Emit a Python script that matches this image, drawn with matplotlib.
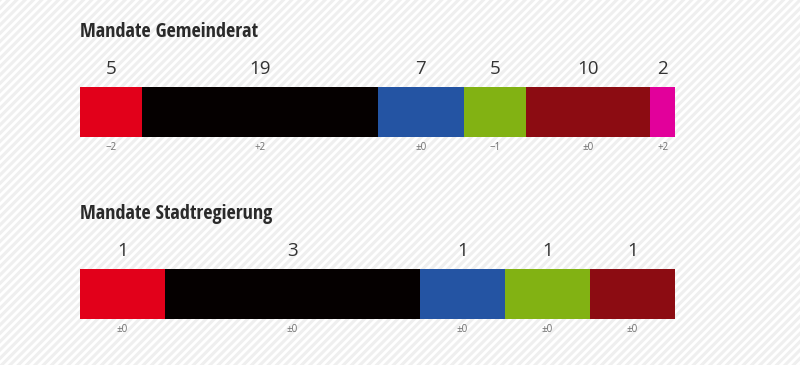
import matplotlib
matplotlib.use("Agg")
import matplotlib.pyplot as plt
import matplotlib.transforms as mtransforms
import numpy as np

# Mandate Gemeinderat
council_seats = [5, 19, 7, 5, 10, 2]
council_change = ["\u22122", "+2", "\u00b10", "\u22121", "\u00b10", "+2"]
council_colors = ["#e2001a", "#050000", "#2454a3", "#82b213", "#8c0c12", "#e2009b"]

# Mandate Stadtregierung
govt_seats = [1, 3, 1, 1, 1]
govt_change = ["\u00b10", "\u00b10", "\u00b10", "\u00b10", "\u00b10"]
govt_colors = ["#e2001a", "#050000", "#2454a3", "#82b213", "#8c0c12"]

TITLE_FONT = ["Open Sans Condensed", "DejaVu Sans"]
NUM_FONT = ["Open Sans", "DejaVu Sans"]

plt.rcParams["hatch.color"] = "#efefef"
plt.rcParams["hatch.linewidth"] = 2.2

W, H = 800, 365
fig = plt.figure(figsize=(W / 100, H / 100), dpi=100)

# striped background
bg = fig.add_axes([0, 0, 1, 1])
bg.set_xlim(0, 1)
bg.set_ylim(0, 1)
bg.add_patch(plt.Rectangle((0, 0), 1, 1, facecolor="white", edgecolor="#efefef", hatch="////", lw=0))
bg.axis("off")


def seat_bar(title, seats, changes, colors, top_px):
    fig.text(80 / W, 1 - (top_px - 55) / H, title, fontsize=14.5, fontweight="bold",
             color="#2a2a2a", family=TITLE_FONT, va="center", ha="left")
    ax = fig.add_axes([80 / W, 1 - (top_px + 50) / H, 595 / W, 50 / H])
    total = sum(seats)
    lefts = np.concatenate([[0], np.cumsum(seats)[:-1]])
    ax.barh(0, seats, left=lefts, height=1.0, color=colors, edgecolor="none")
    ax.set_xlim(0, total)
    ax.set_ylim(-0.5, 0.5)
    ax.axis("off")
    above = ax.transData + mtransforms.ScaledTranslation(0, 9 / 100, fig.dpi_scale_trans)
    for left, n, ch in zip(lefts, seats, changes):
        cx = left + n / 2
        ax.text(cx, 0.5, str(n), transform=above, ha="center", va="bottom",
                fontsize=13.5, color="#333333", family=NUM_FONT)
        ax.annotate(ch, (cx, -0.5), xytext=(0, -3.5), textcoords="offset points",
                    ha="center", va="top", fontsize=7, color="#6e6e6e", family=NUM_FONT)
    return ax


seat_bar("Mandate Gemeinderat", council_seats, council_change, council_colors, 87)
seat_bar("Mandate Stadtregierung", govt_seats, govt_change, govt_colors, 269)

fig.savefig("out.png", dpi=100)
